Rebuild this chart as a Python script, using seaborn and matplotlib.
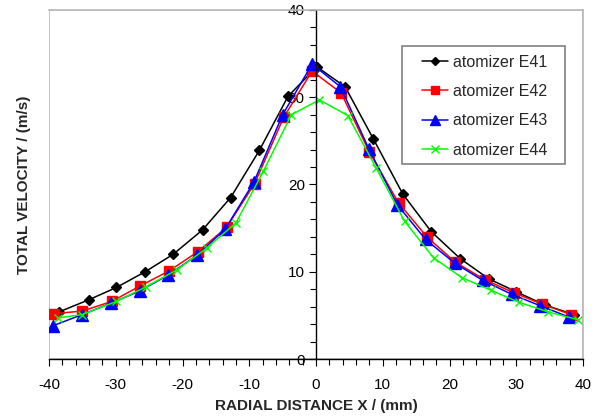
import numpy as np
import pandas as pd
import matplotlib
matplotlib.use("Agg")
import matplotlib.pyplot as plt
from matplotlib.patches import Rectangle
from matplotlib.ticker import MultipleLocator
import seaborn as sns

# 数据
x_e41 = [-38.5, -34.0, -29.9, -25.6, -21.4, -17.0, -12.8, -8.5, -4.2, 0.1,
         4.35, 8.6, 13.0, 17.25, 21.6, 25.85, 30.0, 34.25, 38.6]
v_e41 = [5.4, 6.8, 8.2, 10.0, 12.0, 14.8, 18.5, 23.9, 30.1, 33.5,
         31.2, 25.2, 18.9, 14.6, 11.5, 9.2, 7.7, 6.2, 5.1]

x_e42 = [-39.2, -35.0, -30.6, -26.3, -22.0, -17.7, -13.4, -9.2, -4.85, -0.6,
         3.75, 8.0, 12.35, 16.6, 20.85, 25.25, 29.6, 33.85, 38.15]
v_e42 = [5.2, 5.5, 6.6, 8.4, 10.1, 12.3, 15.1, 20.1, 27.7, 33.0,
         30.5, 23.7, 17.9, 14.0, 11.1, 9.1, 7.6, 6.3, 5.1]

x_e43 = [-39.45, -35.0, -30.7, -26.4, -22.2, -17.8, -13.6, -9.3, -5.0, -0.6,
         3.65, 7.9, 12.15, 16.4, 20.75, 25.0, 29.35, 33.6, 37.9]
v_e43 = [3.8, 5.1, 6.4, 7.8, 9.6, 11.9, 14.9, 20.3, 28.0, 33.8,
         31.2, 24.1, 17.7, 13.7, 11.0, 9.0, 7.4, 6.1, 4.8]

x_e44 = [-38.7, -35.0, -29.9, -25.4, -20.9, -16.4, -12.0, -7.9, -3.7, 0.5,
         4.75, 9.0, 13.25, 17.6, 21.9, 26.15, 30.4, 34.75, 39.25]
v_e44 = [4.7, 5.1, 6.6, 8.3, 10.2, 12.7, 15.6, 21.5, 28.0, 29.7,
         27.9, 21.9, 15.8, 11.6, 9.3, 7.9, 6.5, 5.4, 4.5]

series = [
    ("atomizer E41", x_e41, v_e41, "black", "D", 5),
    ("atomizer E42", x_e42, v_e42, "red", "s", 7.5),
    ("atomizer E43", x_e43, v_e43, "blue", "^", 8.5),
    ("atomizer E44", x_e44, v_e44, "#00ff00", "x", 6),
]

sns.set_theme(style="white")
plt.rcParams['font.family'] = ['Liberation Sans', 'DejaVu Sans']
plt.rcParams['axes.unicode_minus'] = False

fig, ax = plt.subplots(figsize=(6.03, 4.16), dpi=100)
fig.subplots_adjust(left=0.0813, right=0.967, top=0.976, bottom=0.137)

for name, xs, vs, col, mk, ms in series:
    df = pd.DataFrame({"x": xs, "v": vs})
    sns.lineplot(data=df, x="x", y="v", ax=ax, color=col, marker=mk,
                 markersize=ms, linewidth=1.1, markeredgecolor=col,
                 markeredgewidth=1.0, sort=False, label=name)

ax.set_xlim(-40, 40)
ax.set_ylim(0, 40)
ax.xaxis.set_major_locator(MultipleLocator(10))
ax.xaxis.set_minor_locator(MultipleLocator(2))
ax.yaxis.set_major_locator(MultipleLocator(10))
ax.yaxis.set_minor_locator(MultipleLocator(2))

# 中心 y 轴
ax.spines['left'].set_position(('data', 0))
ax.spines['left'].set_color('black')
ax.spines['left'].set_linewidth(1.0)
ax.spines['bottom'].set_color('black')
ax.spines['bottom'].set_linewidth(1.0)
for s in ['top', 'right']:
    ax.spines[s].set_color('#b8b8b8')
    ax.spines[s].set_linewidth(1.2)
ax.add_patch(Rectangle((0, 0), 1, 1, transform=ax.transAxes, fill=False,
                       edgecolor='#b8b8b8', linewidth=1.2, zorder=0.5))

ax.tick_params(which='both', direction='out', colors='black', labelsize=11)
ax.tick_params(which='major', length=5, width=0.8)
ax.tick_params(which='minor', length=4, width=0.8)
ax.tick_params(axis='x', which='both', bottom=True, pad=9)
ax.tick_params(axis='y', which='both', left=True, pad=3)

ax.set_xlabel('RADIAL DISTANCE X / (mm)', fontsize=11, fontweight='bold', labelpad=5)
ax.set_ylabel('TOTAL VELOCITY / (m/s)', fontsize=11, fontweight='bold')
ax.yaxis.set_label_coords(-0.033, 0.5)

# 图例 (边框单独画)
ax.add_patch(Rectangle((0.661, 0.559), 0.305, 0.338, transform=ax.transAxes,
                       facecolor='white', edgecolor='#808080', linewidth=1.2,
                       zorder=4))
leg = ax.legend(loc='upper left', bbox_to_anchor=(0.6985, 0.872),
                borderaxespad=0, borderpad=0, fontsize=11.5, frameon=False,
                labelspacing=0.9, handlelength=1.6, handletextpad=0.35,
                markerscale=0.85)
leg.set_zorder(5)

plt.savefig('out.png', dpi=100)
